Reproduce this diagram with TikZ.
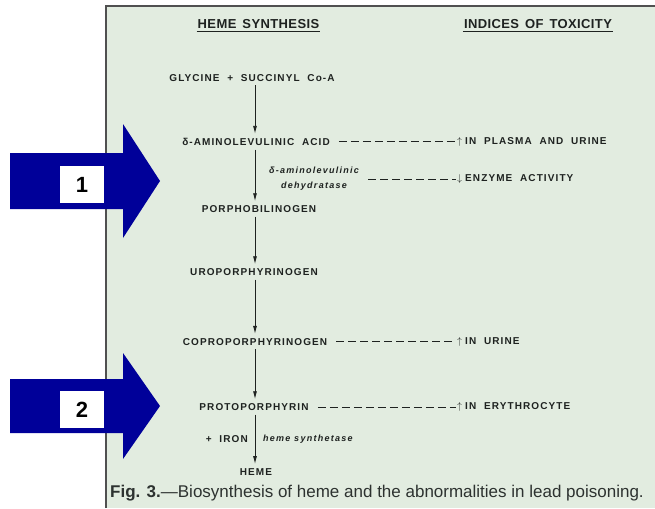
\documentclass[tikz,border=0pt]{standalone}
\usepackage{fontspec}
\setmainfont{Liberation Sans}
\newfontfamily\letterfont[LetterSpace=11,WordSpace=2]{Liberation Sans}
\newfontfamily\enzfont[LetterSpace=14]{Liberation Sans}
\newfontfamily\headfont[LetterSpace=3,WordSpace=1.5]{Liberation Sans}
\usetikzlibrary{arrows.meta,positioning}
\definecolor{paper}{RGB}{226,236,224}
\definecolor{ink}{RGB}{30,34,32}
\definecolor{capink}{RGB}{45,50,48}
\definecolor{framegray}{RGB}{80,80,80}
\definecolor{slideblue}{RGB}{0,0,153}

\begin{document}
\begin{tikzpicture}[
  x=1pt, y=-1pt,
  chem/.style={font={\letterfont\bfseries\fontsize{10}{11}\selectfont}, text=ink, inner sep=2pt},
  idx/.style={chem, anchor=west, inner sep=1pt},
  enz/.style={font={\enzfont\bfseries\itshape\fontsize{9}{15}\selectfont}, text=ink, align=center, inner sep=2pt},
  head/.style={font={\headfont\bfseries\fontsize{13}{15}\selectfont}, text=ink, inner sep=1pt},
  uline/.style={draw=ink, line width=1.2pt},
  arr/.style={-{Latex[length=8pt,width=4pt]}, draw=ink, line width=0.9pt, shorten >=2pt, shorten <=2pt},
  dashln/.style={draw=ink, line width=0.9pt, dash pattern=on 8pt off 4pt, shorten <=7pt},
  numbox/.style={fill=white, minimum width=44pt, minimum height=37pt, inner sep=0pt,
                 font={\bfseries\fontsize{22}{24}\selectfont}}
]
\useasboundingbox (0,0) rectangle (655,508);
\fill[paper] (106,6) rectangle (655,508);
\draw[framegray, line width=1.2pt] (106,508) -- (106,6) -- (655,6);

\node[head] (hs)  at (258.5,24) {HEME SYNTHESIS};
\node[head] (tox) at (538,24)   {INDICES OF TOXICITY};
\foreach \h in {hs,tox}
  \draw[uline] ([yshift=-2pt]\h.south west) -- ([yshift=-2pt]\h.south east);

\node[chem] (gly)   at (252,77.7)  {GLYCINE + SUCCINYL Co-A};
\node[chem] (ala)   at (256,141.7) {δ-AMINOLEVULINIC ACID};
\node[chem] (pbg)   at (259,209)   {PORPHOBILINOGEN};
\node[chem] (uro)   at (254,272)   {UROPORPHYRINOGEN};
\node[chem] (copro) at (255,341.7) {COPROPORPHYRINOGEN};
\node[chem] (proto) at (254,407)   {PROTOPORPHYRIN};
\node[chem] (heme)  at (256,471.7) {HEME};

\foreach \a/\b in {gly/ala, ala/pbg, pbg/uro, uro/copro, copro/proto, proto/heme}
  \draw[arr] (\a.south -| 255,0) -- (\b.north -| 255,0);

\node[enz] (dehyd) at (314,179) {δ-aminolevulinic\\dehydratase};
\path (proto) -- coordinate[midway] (mid) (heme);
\node[chem, left=5pt of mid]  (iron)  {+ IRON};
\node[enz, right=6pt of mid]  (synth) {heme synthetase};

\node[idx] (ala-t)   at (456,141.7) {$\uparrow$\hspace{3pt}IN PLASMA AND URINE};
\node[idx] (dehyd-t) at (456,179)   {$\downarrow$\hspace{3pt}ENZYME ACTIVITY};
\node[idx] (copro-t) at (456,341.7) {$\uparrow$\hspace{3pt}IN URINE};
\node[idx] (proto-t) at (456,407)   {$\uparrow$\hspace{3pt}IN ERYTHROCYTE};
\foreach \a in {ala, dehyd, copro, proto}
  \draw[dashln] (\a) -- (\a-t);

\node[anchor=west, text=capink, inner sep=0pt, font={\fontsize{17}{20}\selectfont}] (cap) at (110,493)
  {\textbf{Fig. 3.}—Biosynthesis of heme and the abnormalities in lead poisoning.};

\foreach \n/\y/\s/\h in {1/181/28/57, 2/406/27/53} {
  \fill[slideblue] (10,\y-\s) -- (123,\y-\s) -- (123,\y-\h) -- (160,\y)
    -- (123,\y+\h) -- (123,\y+\s) -- (10,\y+\s) -- cycle;
  \node[numbox] (n\n) at (82,\y+3.5) {\n};
}
\end{tikzpicture}
\end{document}
